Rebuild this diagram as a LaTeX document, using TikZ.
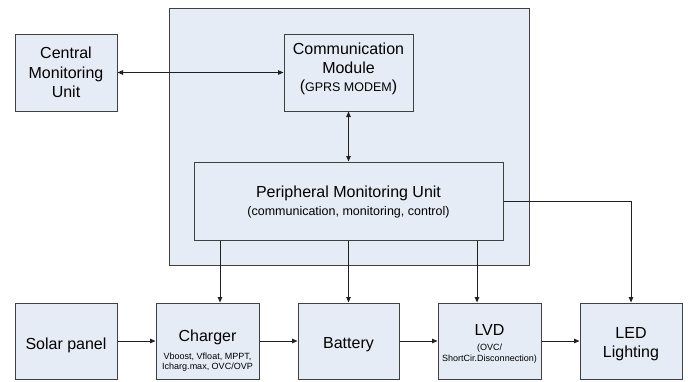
\documentclass[tikz,border=0pt]{standalone}
\usepackage{fontspec}
\setmainfont{Liberation Sans}
\usetikzlibrary{arrows.meta}
\definecolor{boxfill}{HTML}{E6ECF6}
\definecolor{boxline}{HTML}{404040}
\definecolor{lineclr}{HTML}{202020}
\newcommand{\bigtxt}{\fontsize{16}{19.5}\selectfont}
\newcommand{\midtxt}{\fontsize{12.5}{15}\selectfont}
\newcommand{\smalltxt}{\fontsize{9}{10.5}\selectfont}
\begin{document}
\begin{tikzpicture}[x=1pt,y=-1pt,
  blk/.style={draw=boxline, fill=boxfill, line width=1pt, inner sep=0pt},
  txt/.style={align=center, inner sep=0pt, font=\bigtxt},
  arr/.style={draw=lineclr, line width=0.9pt, -{Triangle[length=5.5pt,width=4.5pt]}},
  darr/.style={draw=lineclr, line width=0.9pt, {Triangle[length=5.5pt,width=4.5pt]}-{Triangle[length=5.5pt,width=4.5pt]}}]
\useasboundingbox (0,0) rectangle (688,381);
\node[blk, minimum width=360pt, minimum height=257pt] (cont) at (349,136.5) {};
\node[blk, minimum width=102pt, minimum height=77pt] (cmu) at (66,72.5) {};
\node[txt] (cmuT) at (cmu.center) {Central\\Monitoring\\Unit};
\node[blk, minimum width=129pt, minimum height=77pt] (cm) at (348.5,72.5) {};
\node[txt] (cmT) at ([yshift=4pt]cm.center) {Communication\\Module\\[-2pt]({\midtxt GPRS MODEM})};
\node[blk, minimum width=309pt, minimum height=78pt] (pmu) at (348.5,201) {};
\node[txt] (pmuT) at ([yshift=-1pt]pmu.center) {Peripheral Monitoring Unit\\[-2pt]{\midtxt (communication, monitoring, control)}};
\node[blk, minimum width=102pt, minimum height=76pt] (solar) at (66,341) {};
\node[txt] (solarT) at ([yshift=-4pt]solar.center) {Solar panel};
\node[blk, minimum width=103pt, minimum height=76pt] (charger) at (207.5,341) {};
\node[txt] (chargerT) at ([yshift=-10pt]charger.center) {Charger\\[-2pt]{\smalltxt Vboost, Vfloat, MPPT,}\\[-9pt]{\smalltxt Icharg.max, OVC/OVP}};
\node[blk, minimum width=101pt, minimum height=76pt] (battery) at (348.5,341) {};
\node[txt] (batteryT) at ([yshift=-4pt]battery.center) {Battery};
\node[blk, minimum width=103pt, minimum height=76pt] (lvd) at (489.5,341) {};
\node[txt] (lvdT) at ([yshift=-3pt]lvd.center) {LVD\\[-4pt]{\smalltxt (OVC/}\\[-8.5pt]{\smalltxt ShortCir.Disconnection)}};
\node[blk, minimum width=102pt, minimum height=76pt] (led) at (631,341) {};
\node[txt] (ledT) at ([yshift=-3pt]led.center) {LED\\Lighting};
\draw[darr] (cmu.east) -- (cm.west);
\draw[darr] (cm.south) -- (pmu.north);
\draw[arr] ([xshift=12.5pt]charger.north |- pmu.south) -- ([xshift=12.5pt]charger.north);
\draw[arr] (pmu.south) -- (battery.north);
\draw[arr] ([xshift=-12.5pt]lvd.north |- pmu.south) -- ([xshift=-12.5pt]lvd.north);
\draw[arr] (pmu.east) -| (led.north);
\draw[arr] (solar.east) -- (charger.west);
\draw[arr] (charger.east) -- (battery.west);
\draw[arr] (battery.east) -- (lvd.west);
\draw[arr] (lvd.east) -- (led.west);
\end{tikzpicture}
\end{document}
